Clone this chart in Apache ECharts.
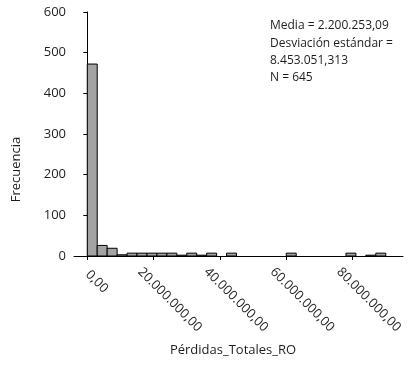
<!DOCTYPE html>
<html>
<head>
<meta charset="utf-8">
<script src="https://cdn.jsdelivr.net/npm/echarts@6/dist/echarts.min.js"></script>
<style>
html,body{margin:0;padding:0;background:#fff;}
#c{width:410px;height:367px;}
</style>
</head>
<body>
<div id="c"></div>
<script>
// Histogram bins (lower edge, in millions) and counts
const binStartsM = [0, 3, 6, 9, 12, 15, 18, 21, 24, 27, 30, 33, 36, 39, 42, 45, 48, 51, 54, 57, 60, 63, 66, 69, 72, 75, 78, 81, 84, 87];
const binCounts  = [472, 26, 19, 3, 7, 7, 7, 7, 7, 2, 7, 2, 7, 0, 7, 0, 0, 0, 0, 0, 7, 0, 0, 0, 0, 0, 7, 0, 2, 7];
const binWidthM = 3;
// Axis ticks
const xTickValues = [0, 20000000, 40000000, 60000000, 80000000];
const xTickLabels = ['0,00', '20.000.000,00', '40.000.000,00', '60.000.000,00', '80.000.000,00'];
const yTicks = [0, 100, 200, 300, 400, 500, 600];
const statsLines = ['Media = 2.200.253,09', 'Desviación estándar =', '8.453.051,313', 'N = 645'];

const FONT = 'Open Sans';
const TXT = '#1e1e1e';

const data = binStartsM.map((s, i) => [s * 1e6, (s + binWidthM) * 1e6, binCounts[i]]);

const chart = echarts.init(document.getElementById('c'), null, {renderer: 'canvas'});
chart.setOption({
  animation: false,
  backgroundColor: '#fff',
  title: {
    text: statsLines.join('\n'),
    left: 270, top: 17, padding: 0,
    textStyle: {fontFamily: FONT, fontSize: 12, fontWeight: 'normal', color: TXT, lineHeight: 17.4}
  },
  grid: {left: 74, right: 7, top: 12, bottom: 111},
  xAxis: {
    type: 'value',
    min: -4000000, max: 95200000,
    name: 'Pérdidas_Totales_RO',
    nameLocation: 'middle',
    nameGap: 88,
    nameTextStyle: {fontFamily: FONT, fontSize: 13, color: TXT, padding: [0, 11, 0, 0]},
    axisLine: {show: true, lineStyle: {color: '#000', width: 1}},
    axisTick: {show: true, customValues: xTickValues, length: 4, lineStyle: {color: '#000'}},
    splitLine: {show: false},
    axisLabel: {
      customValues: xTickValues,
      rotate: -45,
      margin: 0,
      fontFamily: FONT, fontSize: 13, color: TXT,
      formatter: function (v) {
        const i = xTickValues.indexOf(v);
        const t = i >= 0 ? xTickLabels[i] : '';
        return t.length <= 4 ? '{s|' + t + '}' : '{l|' + t + '}';
      },
      rich: {
        s: {fontFamily: FONT, fontSize: 13, color: TXT, padding: [23, 0, 0, 12]},
        l: {fontFamily: FONT, fontSize: 13, color: TXT, padding: [39, 0, 0, 0]}
      }
    }
  },
  yAxis: {
    type: 'value',
    min: yTicks[0], max: yTicks[yTicks.length - 1], interval: 100,
    name: 'Frecuencia',
    nameLocation: 'middle',
    nameGap: 51,
    nameTextStyle: {fontFamily: FONT, fontSize: 13, color: TXT, padding: [0, 71, 0, 0]},
    axisLine: {show: true, lineStyle: {color: '#000', width: 1}},
    axisTick: {show: true, length: 4, lineStyle: {color: '#000'}},
    splitLine: {show: false},
    axisLabel: {fontFamily: FONT, fontSize: 13, color: TXT, margin: 8}
  },
  series: [{
    type: 'custom',
    data: data,
    encode: {x: [0, 1], y: 2},
    renderItem: function (params, api) {
      const c = api.value(2);
      if (!c) return null;
      const p0 = api.coord([api.value(0), 0]);
      const p1 = api.coord([api.value(1), c]);
      return {
        type: 'rect',
        shape: {x: p0[0], y: p1[1], width: p1[0] - p0[0], height: p0[1] - p1[1]},
        style: {fill: '#a3a3a3', stroke: '#000', lineWidth: 1}
      };
    }
  }]
});
</script>
</body>
</html>
